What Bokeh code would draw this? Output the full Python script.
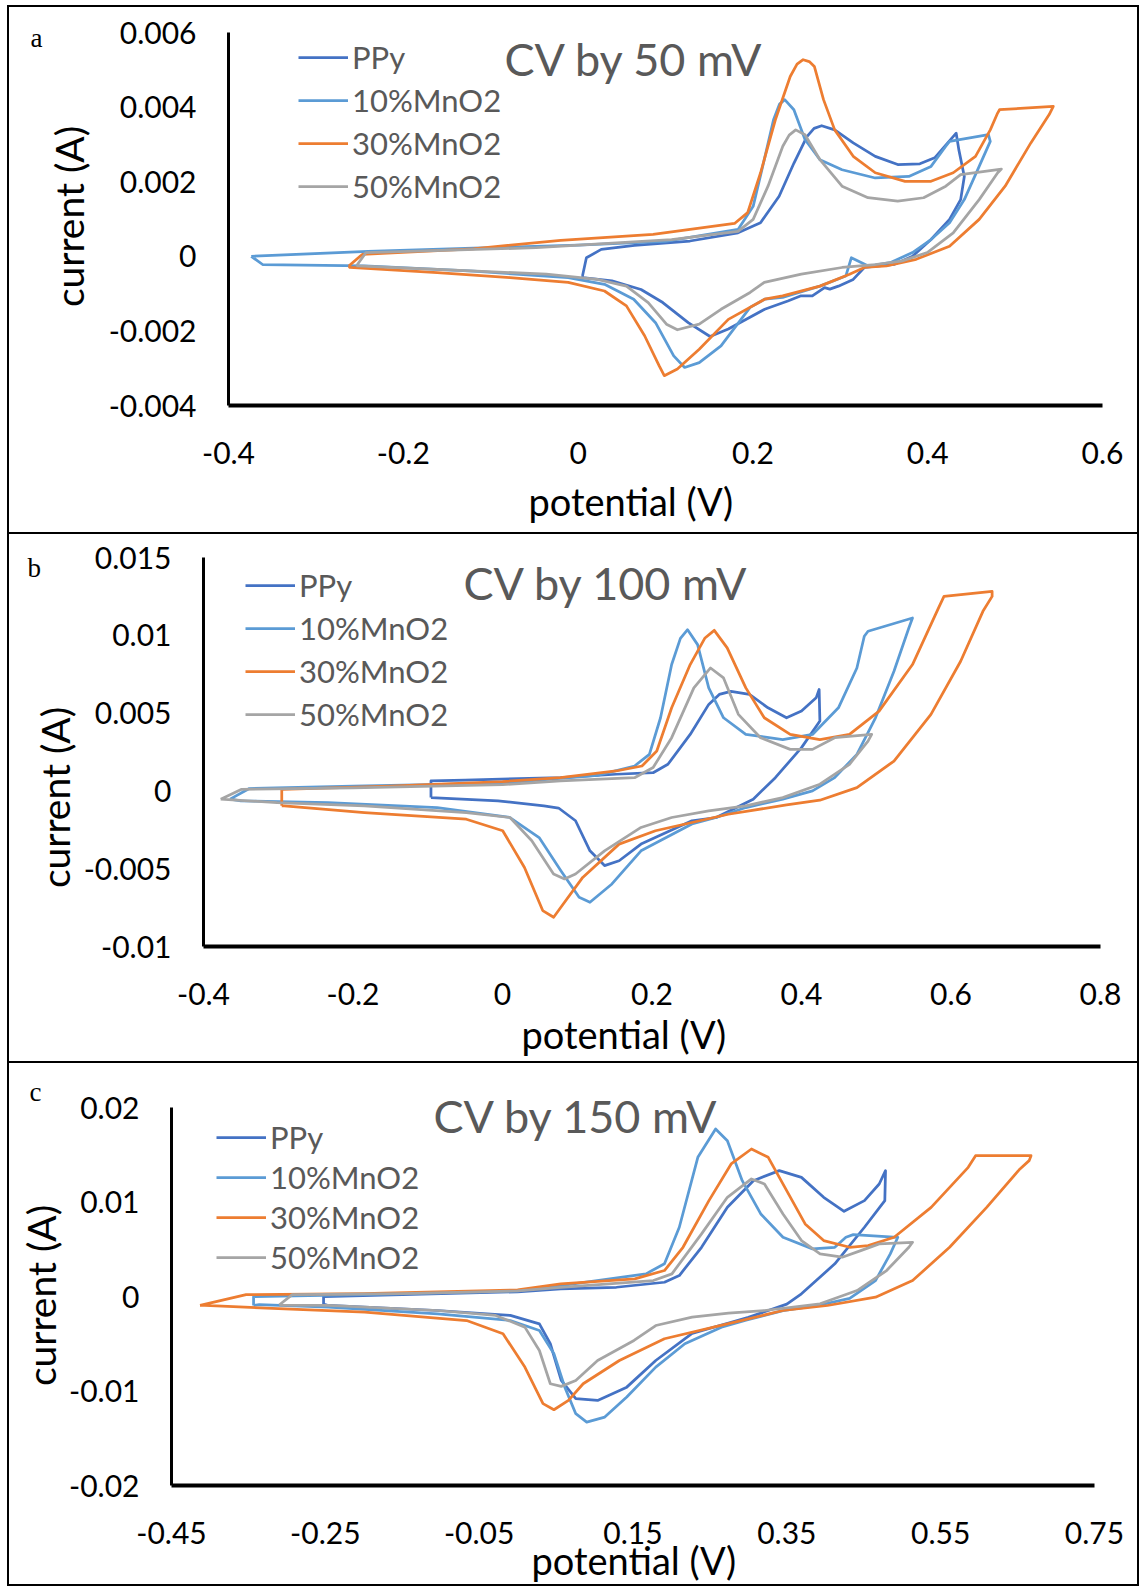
import math
from bokeh.plotting import figure
from bokeh.models import FixedTicker, Label, Legend, LegendItem, Title
from bokeh.layouts import column, row
from bokeh.embed import file_html
from bokeh.resources import INLINE

SERIES = ["PPy", "10%MnO2", "30%MnO2", "50%MnO2"]
COLORS = ["#4472C4", "#5B9BD5", "#ED7D31", "#A5A5A5"]

# ---------------- panel a : CV by 50 mV ----------------
a_xticks = [-0.4, -0.2, 0, 0.2, 0.4, 0.6]
a_xlabels = ["-0.4", "-0.2", "0", "0.2", "0.4", "0.6"]
a_yticks = [-0.004, -0.002, 0, 0.002, 0.004, 0.006]
a_ylabels = ["-0.004", "-0.002", "0", "0.002", "0.004", "0.006"]

a_ppy = [(0.005, -0.00053), (0.0095, -0.00004), (0.0265, 0.000185), (0.0646, 0.00029), (0.128, 0.00041),
         (0.183, 0.00063), (0.2087, 0.0009), (0.23, 0.00161), (0.247, 0.0025), (0.2618, 0.00321),
         (0.27, 0.00343), (0.2787, 0.0035), (0.2936, 0.00339), (0.3148, 0.00304), (0.340, 0.00268),
         (0.3657, 0.00246), (0.391, 0.00248), (0.408, 0.00264), (0.4229, 0.00304), (0.4326, 0.0033),
         (0.4356, 0.00286), (0.4419, 0.00214), (0.4377, 0.00152), (0.425, 0.00099), (0.4038, 0.00045),
         (0.3826, 0.0), (0.3613, -0.00022), (0.3444, -0.00026), (0.3275, -0.0003), (0.3148, -0.00062),
         (0.2978, -0.0008), (0.288, -0.00088), (0.282, -0.00084), (0.268, -0.00106), (0.2551, -0.00106),
         (0.24, -0.0012), (0.2135, -0.00142), (0.1719, -0.00195), (0.151, -0.00215), (0.126, -0.00178),
         (0.0969, -0.00124), (0.072, -0.00089), (0.0387, -0.00066), (0.0053, -0.00057), (0.005, -0.00053)]

a_10 = [(-0.374, 0.0), (-0.2405, 0.00013), (-0.12, 0.00022), (0.0, 0.0003), (0.1, 0.0004),
        (0.183, 0.00072), (0.2003, 0.00134), (0.213, 0.00259), (0.2236, 0.00366), (0.2305, 0.00408),
        (0.2364, 0.0042), (0.2469, 0.00393), (0.2596, 0.00313), (0.2767, 0.00259), (0.302, 0.00232),
        (0.340, 0.0021), (0.3784, 0.00214), (0.4038, 0.00241), (0.4207, 0.00295), (0.425, 0.00308),
        (0.4695, 0.00326), (0.4716, 0.00308), (0.4589, 0.00241), (0.4419, 0.00152), (0.425, 0.0009),
        (0.4038, 0.00045), (0.3826, 0.0001), (0.357, -0.00017), (0.332, -0.00026), (0.3126, -0.00004),
        (0.3063, -0.00053), (0.2767, -0.0008), (0.234, -0.0011), (0.2135, -0.00115), (0.1968, -0.00137),
        (0.1635, -0.0024), (0.1386, -0.00285), (0.1219, -0.00298), (0.1094, -0.00267), (0.0886, -0.00178),
        (0.0636, -0.00115), (0.0302, -0.00075), (-0.0113, -0.00057), (-0.1197, -0.0004), (-0.2444, -0.00026),
        (-0.361, -0.00022), (-0.374, 0.0)]

a_30 = [(-0.2624, -0.00026), (-0.247, 0.00005), (-0.12, 0.0002), (-0.02, 0.00043), (0.0858, 0.00059),
        (0.179, 0.00088), (0.194, 0.00117), (0.2088, 0.00224), (0.2257, 0.00366), (0.2427, 0.00482),
        (0.2505, 0.00515), (0.2575, 0.00527), (0.2645, 0.00522), (0.2703, 0.00509), (0.2808, 0.0042),
        (0.2936, 0.00339), (0.3148, 0.00268), (0.340, 0.00224), (0.3741, 0.00201), (0.4038, 0.00201),
        (0.4292, 0.00224), (0.4547, 0.00268), (0.4716, 0.00339), (0.480, 0.00384), (0.4822, 0.00393),
        (0.5437, 0.00402), (0.539, 0.0038), (0.518, 0.00304), (0.4886, 0.00188), (0.4589, 0.00099),
        (0.425, 0.00027), (0.3868, -0.00008), (0.3529, -0.00026), (0.3275, -0.0003), (0.3106, -0.00048),
        (0.2767, -0.0008), (0.234, -0.00106), (0.2135, -0.00115), (0.1719, -0.00169), (0.1386, -0.00249),
        (0.1136, -0.00302), (0.0986, -0.0032), (0.0928, -0.00294), (0.0761, -0.00213), (0.0553, -0.00133),
        (0.0302, -0.00093), (-0.0113, -0.0007), (-0.0779, -0.00057), (-0.1612, -0.00044), (-0.2612, -0.0003),
        (-0.2624, -0.00026)]

a_50 = [(-0.2537, -0.00026), (-0.2427, 0.0001), (-0.0478, 0.00023), (0.107, 0.00045), (0.183, 0.00067),
        (0.2003, 0.00099), (0.2173, 0.00188), (0.2342, 0.00295), (0.2415, 0.00325), (0.249, 0.00339),
        (0.2596, 0.00326), (0.2767, 0.00259), (0.302, 0.00188), (0.3317, 0.00157), (0.3657, 0.00148),
        (0.3953, 0.00157), (0.4207, 0.00188), (0.4377, 0.00219), (0.4843, 0.00234), (0.4801, 0.00224),
        (0.4589, 0.00152), (0.4292, 0.00063), (0.3995, 0.0001), (0.37, -0.00013), (0.340, -0.00022),
        (0.302, -0.0003), (0.2554, -0.00048), (0.213, -0.0007), (0.1968, -0.00097), (0.1635, -0.00142),
        (0.1386, -0.00182), (0.1136, -0.00197), (0.1011, -0.00182), (0.0802, -0.00124), (0.0553, -0.0008),
        (0.022, -0.00062), (-0.0363, -0.00048), (-0.1612, -0.00035), (-0.2529, -0.00026), (-0.2537, -0.00026)]

# ---------------- panel b : CV by 100 mV ----------------
b_xticks = [-0.4, -0.2, 0, 0.2, 0.4, 0.6, 0.8]
b_xlabels = ["-0.4", "-0.2", "0", "0.2", "0.4", "0.6", "0.8"]
b_yticks = [-0.01, -0.005, 0, 0.005, 0.01, 0.015]
b_ylabels = ["-0.01", "-0.005", "0", "0.005", "0.01", "0.015"]

b_ppy = [(-0.0957, -0.00043), (-0.0957, 0.00064), (-0.05, 0.0007), (0.0776, 0.00085), (0.152, 0.00107),
         (0.2015, 0.00117), (0.2213, 0.00171), (0.2511, 0.00363), (0.2759, 0.00556), (0.29, 0.0062),
         (0.3056, 0.0064), (0.3304, 0.0062), (0.3552, 0.00534), (0.38, 0.0047), (0.4, 0.00513),
         (0.4196, 0.00598), (0.4236, 0.00652), (0.4246, 0.00449), (0.4, 0.00278), (0.365, 0.00085),
         (0.3354, -0.00053), (0.2858, -0.00171), (0.2534, -0.00192), (0.1853, -0.00342), (0.156, -0.00449),
         (0.1365, -0.0048), (0.117, -0.00385), (0.0977, -0.00192), (0.075, -0.0011), (0.0554, -0.00096),
         (-0.006, -0.00064), (-0.0957, -0.00043)]

b_10 = [(-0.3644, -0.00053), (-0.3387, 0.00015), (-0.2, 0.0003), (0.0, 0.0005), (0.127, 0.001),
        (0.1767, 0.0016), (0.1965, 0.00235), (0.2114, 0.0047), (0.2263, 0.00812), (0.238, 0.0098),
        (0.2476, 0.01036), (0.261, 0.0094), (0.2759, 0.00662), (0.2957, 0.0047), (0.3255, 0.00363),
        (0.375, 0.0033), (0.4147, 0.00363), (0.4494, 0.00534), (0.4741, 0.0079), (0.484, 0.00994),
        (0.489, 0.01026), (0.5485, 0.01111), (0.5436, 0.01047), (0.5237, 0.00769), (0.499, 0.0047),
        (0.4741, 0.00235), (0.4444, 0.00085), (0.4147, 0.0), (0.375, -0.00053), (0.3255, -0.00107),
        (0.2858, -0.00171), (0.2534, -0.00213), (0.1853, -0.00385), (0.1464, -0.00598), (0.117, -0.00716),
        (0.1025, -0.00684), (0.0781, -0.00513), (0.049, -0.003), (0.01, -0.00171), (-0.0874, -0.00107),
        (-0.2334, -0.00075), (-0.35, -0.00064), (-0.3644, -0.00053)]

b_30 = [(-0.2953, -0.00096), (-0.2953, 0.0001), (-0.15, 0.0003), (0.0, 0.0006), (0.0776, 0.00085),
        (0.152, 0.00128), (0.1866, 0.0016), (0.2064, 0.00256), (0.2263, 0.00534), (0.2511, 0.00812),
        (0.2709, 0.00983), (0.2833, 0.01032), (0.3006, 0.00919), (0.3255, 0.00662), (0.3502, 0.0047),
        (0.3849, 0.00363), (0.4246, 0.0033), (0.4642, 0.00363), (0.5038, 0.00513), (0.5485, 0.00812),
        (0.5832, 0.01175), (0.5906, 0.0125), (0.655, 0.01282), (0.655, 0.0125), (0.6427, 0.01154),
        (0.6129, 0.00833), (0.5732, 0.00492), (0.5237, 0.00192), (0.4741, 0.00021), (0.4246, -0.0006),
        (0.38, -0.0009), (0.302, -0.0015), (0.2047, -0.00256), (0.156, -0.00342), (0.1073, -0.00556),
        (0.0781, -0.00748), (0.0684, -0.00812), (0.0538, -0.00769), (0.0294, -0.00492), (0.0003, -0.00256),
        (-0.0484, -0.00182), (-0.1847, -0.00139), (-0.292, -0.00096), (-0.2953, -0.00096)]

b_50 = [(-0.377, -0.00053), (-0.349, 0.0001), (-0.2, 0.0002), (0.0, 0.0004), (0.0776, 0.00064),
        (0.1767, 0.00085), (0.2015, 0.0015), (0.2263, 0.00342), (0.256, 0.00662), (0.2783, 0.0079),
        (0.2957, 0.00726), (0.3155, 0.00492), (0.3452, 0.00342), (0.3849, 0.00267), (0.4147, 0.00267),
        (0.4444, 0.00342), (0.4939, 0.00363), (0.489, 0.0032), (0.4642, 0.00171), (0.4246, 0.00043),
        (0.375, -0.00043), (0.3255, -0.00096), (0.2759, -0.00128), (0.2263, -0.00171), (0.1853, -0.00235),
        (0.1365, -0.00385), (0.0977, -0.00534), (0.083, -0.00566), (0.0683, -0.00534), (0.0392, -0.0032),
        (0.01, -0.00171), (-0.0484, -0.00139), (-0.1847, -0.00096), (-0.3016, -0.00075), (-0.377, -0.00053)]

# ---------------- panel c : CV by 150 mV ----------------
c_xticks = [-0.45, -0.25, -0.05, 0.15, 0.35, 0.55, 0.75]
c_xlabels = ["-0.45", "-0.25", "-0.05", "0.15", "0.35", "0.55", "0.75"]
c_yticks = [-0.02, -0.01, 0, 0.01, 0.02]
c_ylabels = ["-0.02", "-0.01", "0", "0.01", "0.02"]

c_ppy = [(-0.2523, -0.0008), (-0.2523, 0.0), (-0.15, 0.0002), (0.0, 0.0005), (0.0561, 0.00081),
         (0.1284, 0.00098), (0.1909, 0.00151), (0.2102, 0.00222), (0.2391, 0.00521), (0.2727, 0.00944),
         (0.3065, 0.01226), (0.3402, 0.01332), (0.369, 0.01261), (0.3979, 0.0105), (0.4244, 0.00902),
         (0.4509, 0.01015), (0.4701, 0.01191), (0.4783, 0.01332), (0.4774, 0.01015), (0.4509, 0.00733),
         (0.4124, 0.00346), (0.369, 0.00029), (0.35, -0.0008), (0.30, -0.0022), (0.2742, -0.0028),
         (0.2269, -0.0039), (0.1796, -0.00677), (0.1419, -0.00959), (0.104, -0.011), (0.0756, -0.0108),
         (0.0567, -0.00888), (0.0425, -0.005), (0.0283, -0.00289), (-0.0095, -0.002), (-0.1041, -0.00148),
         (-0.246, -0.00095), (-0.2523, -0.0008)]

c_10 = [(-0.3433, -0.00095), (-0.3433, 0.0), (-0.2, 0.0002), (0.0, 0.0006), (0.0561, 0.00116),
        (0.1669, 0.0024), (0.1909, 0.00346), (0.2102, 0.00733), (0.2343, 0.01473), (0.2574, 0.01773),
        (0.2727, 0.01649), (0.292, 0.01226), (0.3161, 0.00874), (0.345, 0.00627), (0.3834, 0.00504),
        (0.4124, 0.00521), (0.4268, 0.00627), (0.4364, 0.00655), (0.4943, 0.00627), (0.4845, 0.00451),
        (0.4653, 0.00169), (0.4317, -0.0002), (0.3932, -0.0009), (0.345, -0.0015), (0.2969, -0.0025),
        (0.265, -0.00324), (0.2174, -0.005), (0.1796, -0.00747), (0.1419, -0.01064), (0.1133, -0.01276),
        (0.0898, -0.01329), (0.0756, -0.0124), (0.0613, -0.00959), (0.0472, -0.00606), (0.0283, -0.0036),
        (-0.0095, -0.00254), (-0.1041, -0.00183), (-0.246, -0.00113), (-0.3359, -0.00085), (-0.3433, -0.00095)]

c_30 = [(-0.4129, -0.00093), (-0.353, 0.0002), (-0.2, 0.0003), (0.0, 0.0007), (0.0561, 0.00134),
        (0.1524, 0.00187), (0.1909, 0.00275), (0.215, 0.00521), (0.2487, 0.01015), (0.2776, 0.01403),
        (0.304, 0.01561), (0.3258, 0.01473), (0.3498, 0.0112), (0.3738, 0.00768), (0.3979, 0.00592),
        (0.4317, 0.00521), (0.4557, 0.00539), (0.4895, 0.00627), (0.5376, 0.00944), (0.5858, 0.01367),
        (0.5954, 0.0149), (0.6675, 0.0149), (0.665, 0.01438), (0.6531, 0.0135), (0.6098, 0.00944),
        (0.5616, 0.00521), (0.5135, 0.00169), (0.4653, -0.00007), (0.4028, -0.00095), (0.345, -0.00148),
        (0.2727, -0.00289), (0.1909, -0.00447), (0.1323, -0.00677), (0.0852, -0.00923), (0.0661, -0.011),
        (0.0472, -0.01198), (0.033, -0.01134), (0.0094, -0.00747), (-0.019, -0.00394), (-0.0663, -0.00254),
        (-0.1987, -0.00166), (-0.4067, -0.00095), (-0.4129, -0.00093)]

c_50 = [(-0.31, -0.0009), (-0.293, 0.0002), (-0.15, 0.0003), (0.0, 0.0006), (0.0561, 0.00098),
        (0.1765, 0.00169), (0.2006, 0.0024), (0.2391, 0.00663), (0.2727, 0.0105), (0.304, 0.01244),
        (0.3209, 0.01191), (0.345, 0.00874), (0.369, 0.00592), (0.3932, 0.00451), (0.422, 0.00416),
        (0.4461, 0.00486), (0.4701, 0.00557), (0.5135, 0.00574), (0.5087, 0.00521), (0.4797, 0.00275),
        (0.4413, 0.00063), (0.3932, -0.00077), (0.3209, -0.00148), (0.2742, -0.00175), (0.2269, -0.00219),
        (0.1796, -0.00307), (0.1513, -0.00465), (0.104, -0.00677), (0.0756, -0.00888), (0.0567, -0.00951),
        (0.0425, -0.00923), (0.0283, -0.00571), (0.0094, -0.00324), (-0.0285, -0.002), (-0.1041, -0.00148),
        (-0.246, -0.00095), (-0.31, -0.0009)]

PANELS = [
    dict(letter="a", title="CV by 50 mV", curves=[a_ppy, a_10, a_30, a_50],
         xr=(-0.4, 0.6), yr=(-0.004, 0.006), ybounds=None,
         xt=a_xticks, xl=a_xlabels, yt=a_yticks, yl=a_ylabels,
         height=525, strip=91, borders=(128, 35, 25, 127),
         title_pos=(276, 347), ylab_pos=(59, 316), letter_pos=(21, 495),
         xlab_offset=300, xlab_standoff=18, xlab_valign="bottom",
         legend_pos=(70, 200), legend_spacing=5),
    dict(letter="b", title="CV by 100 mV", curves=[b_ppy, b_10, b_30, b_50],
         xr=(-0.4, 0.8), yr=(-0.01, 0.015), ybounds=None,
         xt=b_xticks, xl=b_xlabels, yt=b_yticks, yl=b_ylabels,
         height=527, strip=71, borders=(123, 37, 23, 115),
         title_pos=(260, 364), ylab_pos=(45, 264), letter_pos=(18, 494),
         xlab_offset=318, xlab_standoff=6, xlab_valign="top",
         legend_pos=(42, 213), legend_spacing=5),
    # the plot frame of panel c reaches up to the panel edge so that its title (which
    # straddles the top of the axis) is not clipped; the axis line stops at 0.02
    dict(letter="c", title="CV by 150 mV", curves=[c_ppy, c_10, c_30, c_50],
         xr=(-0.45, 0.75), yr=(-0.02, 0.02466), ybounds=(-0.02, 0.02),
         xt=c_xticks, xl=c_xlabels, yt=c_yticks, yl=c_ylabels,
         height=521, strip=54, borders=(108, 43, 0, 99),
         title_pos=(262, 370), ylab_pos=(31, 289), letter_pos=(20, 493),
         xlab_offset=360, xlab_standoff=-19, xlab_valign="top",
         legend_pos=(45, 209), legend_spacing=2),
]

FONT = "Lato"


def no_frame_align(p):
    if "frame_align" in p.properties():
        p.frame_align = False


def make_panel(spec):
    bl, br, bt, bb = spec["borders"]
    sw = spec["strip"]
    h = spec["height"]

    # narrow strip left of the chart holding the panel letter and the y-axis title
    s = figure(width=sw, height=h, x_range=(0, 1), y_range=(0, 1), output_backend="svg",
               toolbar_location=None, x_axis_location=None, y_axis_location=None,
               min_border_left=0, min_border_right=0, min_border_top=0, min_border_bottom=0)
    s.outline_line_color = None
    s.outline_line_alpha = 0
    s.grid.visible = False
    no_frame_align(s)
    lx, ly = spec["letter_pos"]
    s.add_layout(Label(x=lx, y=ly, x_units="screen", y_units="screen", text=spec["letter"],
                       text_font="Liberation Serif", text_font_size="27px", text_color="black",
                       text_align="left", text_baseline="alphabetic"))
    yx, yy = spec["ylab_pos"]
    s.add_layout(Label(x=yx, y=yy, x_units="screen", y_units="screen", text="current (A)",
                       angle=math.pi / 2, text_font=FONT, text_font_size="39px", text_color="black",
                       text_align="center", text_baseline="middle"))

    p = figure(width=1128 - sw, height=h, x_range=spec["xr"], y_range=spec["yr"],
               output_backend="svg", toolbar_location=None,
               min_border_left=bl, min_border_right=br, min_border_top=bt, min_border_bottom=bb)
    p.outline_line_color = None
    p.outline_line_alpha = 0
    p.outline_line_width = 0
    p.xgrid.visible = False
    p.ygrid.visible = False
    p.background_fill_color = "white"
    p.border_fill_color = "white"
    no_frame_align(p)

    for ax, ticks, labels, lw in ((p.xaxis[0], spec["xt"], spec["xl"], 4),
                                  (p.yaxis[0], spec["yt"], spec["yl"], 3)):
        ax.ticker = FixedTicker(ticks=ticks)
        ax.major_label_overrides = {t: lab for t, lab in zip(ticks, labels)}
        ax.major_tick_line_color = None
        ax.minor_tick_line_color = None
        ax.major_tick_in = 0
        ax.major_tick_out = 0
        ax.minor_tick_in = 0
        ax.minor_tick_out = 0
        ax.axis_line_color = "black"
        ax.axis_line_width = lw
        ax.major_label_text_font = FONT
        ax.major_label_text_font_size = "30px"
        ax.major_label_text_color = "black"
    p.xaxis[0].major_label_standoff = 36
    p.yaxis[0].major_label_standoff = 32
    if spec["ybounds"] is not None:
        p.yaxis[0].bounds = spec["ybounds"]

    items = []
    for name, color, pts in zip(SERIES, COLORS, spec["curves"]):
        xs = [q[0] for q in pts]
        ys = [q[1] for q in pts]
        r = p.line(xs, ys, line_color=color, line_width=2.75, line_join="round")
        items.append(LegendItem(label=name, renderers=[r]))

    legend = Legend(items=items, location=spec["legend_pos"], orientation="vertical",
                    glyph_width=50, glyph_height=30, label_height=37, label_width=20,
                    label_standoff=4, spacing=spec["legend_spacing"], padding=0, margin=0,
                    border_line_color=None, background_fill_alpha=0,
                    label_text_font=FONT, label_text_font_size="31px", label_text_color="#595959")
    p.add_layout(legend)

    tx, ty = spec["title_pos"]
    p.add_layout(Label(x=tx, y=ty, x_units="screen", y_units="screen", text=spec["title"],
                       text_font=FONT, text_font_size="45px", text_color="#595959",
                       text_align="left", text_baseline="alphabetic"))

    p.add_layout(Title(text="potential (V)", align="left", vertical_align=spec["xlab_valign"],
                       offset=spec["xlab_offset"], standoff=spec["xlab_standoff"],
                       text_font=FONT, text_font_size="38px",
                       text_font_style="normal", text_color="black"), "below")

    return row(s, p, spacing=0, styles={"background-color": "white"})


rows = [make_panel(sp) for sp in PANELS]
page = column(*rows, spacing=2, margin=(5, 0, 0, 7),
              styles={"background-color": "black", "padding": "2px"})

open("out.html", "w").write(file_html(page, INLINE, "CV curves"))
